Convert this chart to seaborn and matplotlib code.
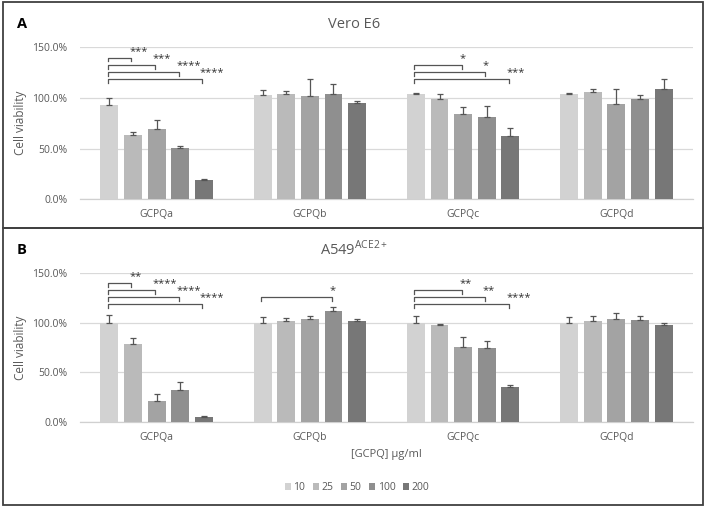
import matplotlib
matplotlib.use("Agg")
import matplotlib.pyplot as plt
from matplotlib.patches import Rectangle
import seaborn as sns
import pandas as pd

groups = ["GCPQa", "GCPQb", "GCPQc", "GCPQd"]
concs = ["10", "25", "50", "100", "200"]

vero_means = [[93.0, 63.5, 69.5, 50.3, 19.4],
              [102.6, 104.0, 102.3, 104.2, 94.7],
              [104.2, 99.0, 84.5, 80.9, 62.2],
              [103.6, 105.9, 94.0, 99.0, 108.8]]
vero_errs = [[7.0, 3.2, 8.5, 2.7, 0.6],
             [5.2, 3.0, 16.0, 9.7, 2.5],
             [1.0, 5.0, 6.5, 11.0, 8.0],
             [1.6, 3.3, 15.0, 4.2, 9.6]]

a549_means = [[100.0, 78.8, 21.0, 32.4, 5.6],
              [100.0, 101.8, 103.2, 111.9, 102.0],
              [100.0, 97.3, 75.5, 74.8, 35.1],
              [100.0, 101.6, 103.9, 102.6, 97.3]]
a549_errs = [[8.0, 5.4, 7.0, 8.0, 1.0],
             [6.0, 2.4, 3.0, 4.0, 2.0],
             [6.6, 1.3, 9.7, 6.4, 2.3],
             [6.0, 4.7, 5.7, 4.3, 2.0]]

# significance: (group, compared conc index vs conc 0, label, stack level)
vero_sig = [(0, 1, "***", 3), (0, 2, "***", 2), (0, 3, "****", 1), (0, 4, "****", 0),
            (2, 2, "*", 2), (2, 3, "*", 1), (2, 4, "***", 0)]
a549_sig = [(0, 1, "**", 3), (0, 2, "****", 2), (0, 3, "****", 1), (0, 4, "****", 0),
            (1, 3, "*", 1),
            (2, 2, "**", 2), (2, 3, "**", 1), (2, 4, "****", 0)]

titles = ["Vero E6", r"A549$^{\mathregular{ACE2+}}$"]
panel_letters = ["A", "B"]
xlabel = "[GCPQ] \u00b5g/ml"
ylabel = "Cell viability"

palette = ["#d2d2d2", "#bababa", "#a3a3a3", "#8f8f8f", "#777777"]
TXT = "#595959"

plt.rcParams["font.family"] = ["Open Sans", "DejaVu Sans"]

fig = plt.figure(figsize=(7.09, 5.07), dpi=100)
W, H = 709, 507

def frame(x0, y0, x1, y1):
    fig.patches.append(Rectangle((x0 / W, 1 - y1 / H), (x1 - x0) / W, (y1 - y0) / H,
                                 transform=fig.transFigure, fill=False,
                                 edgecolor="#404040", lw=1.3, zorder=0))

frame(2.5, 2, 702.5, 227.5)
frame(2.5, 227.5, 702.5, 505)

axA = fig.add_axes([80 / W, 1 - 199.3 / H, 613 / W, 152 / H])
axB = fig.add_axes([80 / W, 1 - 422.3 / H, 613 / W, 149.6 / H])

def draw(ax, means, errs, sigs, title, letter, title_y, legend):
    rows = []
    for g, grp in enumerate(groups):
        for h, c in enumerate(concs):
            rows.append({"group": grp, "conc": c, "val": means[g][h]})
    df = pd.DataFrame(rows)
    sns.barplot(data=df, x="group", y="val", hue="conc", order=groups, hue_order=concs,
                palette=palette, errorbar=None, width=0.77, gap=0.24, ax=ax,
                legend=legend, saturation=1, zorder=3)
    bar_conts = list(ax.containers)
    centers = {}
    tops = {}
    for h, cont in enumerate(bar_conts):
        for g, bar in enumerate(cont.patches):
            centers[(g, h)] = bar.get_x() + bar.get_width() / 2
            tops[(g, h)] = bar.get_height()
    for (g, h), xc in centers.items():
        ax.errorbar([xc], [tops[(g, h)]], yerr=[[0], [errs[g][h]]],
                    fmt="none", ecolor="#555555", elinewidth=0.9, capsize=2.3,
                    capthick=0.9, zorder=4)
    for (g, h, lab, lev) in sigs:
        y = 118.5 + 7 * lev
        x0 = centers[(g, 0)] - 0.01
        x1 = centers[(g, h)] - 0.01
        ax.plot([x0, x0, x1, x1], [y - 3.5, y, y, y - 3.5], color="#555555", lw=0.9,
                zorder=5, clip_on=False)
        ax.text(x1 - 0.015, y + 4.0, lab, ha="left", va="baseline", fontsize=8.0,
                color="#333333", clip_on=False)
    ax.set_ylim(0, 150)
    ax.set_xlim(-0.5, 3.5)
    ax.set_yticks([0, 50, 100, 150])
    ax.set_yticklabels(["0.0%", "50.0%", "100.0%", "150.0%"])
    ax.yaxis.grid(True, color="#d9d9d9", lw=0.9, zorder=0)
    ax.set_axisbelow(True)
    for s in ["top", "right", "left"]:
        ax.spines[s].set_visible(False)
    ax.spines["bottom"].set_color("#d0d0d0")
    ax.spines["bottom"].set_linewidth(0.9)
    ax.tick_params(axis="both", length=0, labelsize=7.5, labelcolor=TXT)
    ax.tick_params(axis="y", pad=9)
    ax.tick_params(axis="x", pad=7)
    ax.set_xlabel("")
    ax.set_ylabel(ylabel, fontsize=8.5, color=TXT, labelpad=3)
    ax.yaxis.set_label_coords(-53 / 613, 0.5)
    fig.text(0.5, 1 - title_y / H, title, ha="center", va="center", fontsize=10.5, color=TXT)
    fig.text(22 / W, 1 - title_y / H, letter, ha="center", va="center", fontsize=10.5,
             fontweight="bold", color="black")

draw(axA, vero_means, vero_errs, vero_sig, titles[0], panel_letters[0], 24.5, False)
draw(axB, a549_means, a549_errs, a549_sig, titles[1], panel_letters[1], 249.5, True)

fig.text(386.5 / W, 1 - 454 / H, xlabel, ha="center", va="center", fontsize=8, color=TXT)

handles, labels = axB.get_legend_handles_labels()
if axB.get_legend() is not None:
    axB.get_legend().remove()
fig.legend(handles, labels, loc="center", bbox_to_anchor=(357 / W, 1 - 487.5 / H),
           ncol=5, frameon=False, fontsize=7.5, handlelength=0.6, handleheight=0.6,
           handletextpad=0.25, columnspacing=0.7, labelcolor=TXT)

fig.savefig("out.png", dpi=100)
